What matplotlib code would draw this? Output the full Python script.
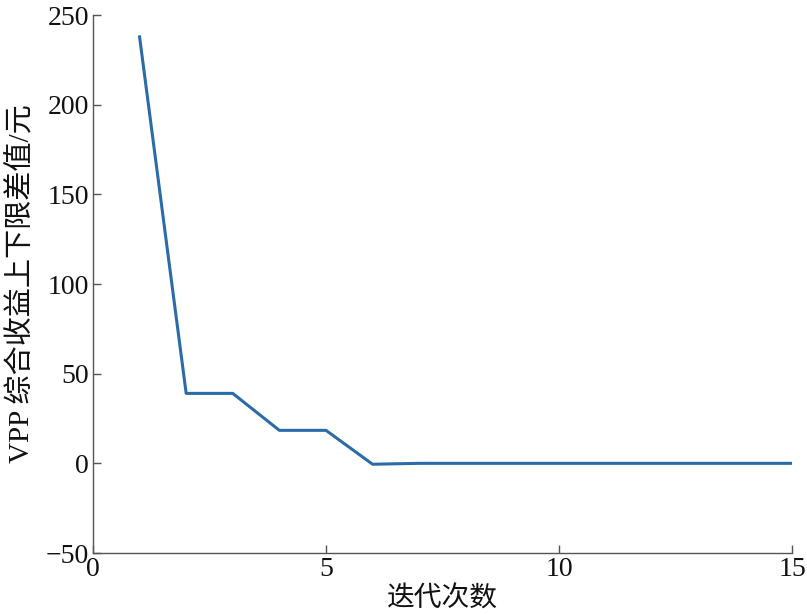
import matplotlib
matplotlib.use("Agg")
import matplotlib.pyplot as plt

iterations = [1, 2, 3, 4, 5, 6, 7, 8, 9, 10, 11, 12, 13, 14, 15]
gap_values = [237.8, 39.0, 39.0, 18.4, 18.4, -0.5, 0.0, 0.0, 0.0, 0.0, 0.0, 0.0, 0.0, 0.0, 0.0]
x_ticks = [0, 5, 10, 15]
y_ticks = [-50, 0, 50, 100, 150, 200, 250]

plt.rcParams['font.family'] = ['Liberation Serif', 'Noto Sans CJK SC']
plt.rcParams['axes.unicode_minus'] = True

fig = plt.figure(figsize=(8.07, 6.15), dpi=100)
ax = fig.add_axes([0.1152, 0.1008, 0.8662, 0.8748])
ax.plot(iterations, gap_values, color='#2b6ca8', linewidth=2.2)
ax.set_xlim(0, 15)
ax.set_ylim(-50, 250)
ax.set_xticks(x_ticks)
ax.set_yticks(y_ticks)
for s in ['top', 'right']:
    ax.spines[s].set_visible(False)
for s in ['left', 'bottom']:
    ax.spines[s].set_color('#555555')
    ax.spines[s].set_linewidth(1.0)
ax.tick_params(direction='in', length=6, width=1, colors='#555555', labelcolor='#111111', labelsize=20, pad=3)
ax.set_xlabel('迭代次数', fontsize=20, labelpad=3, color='#111111')
ax.set_ylabel('VPP 综合收益上下限差值/元', fontsize=21, labelpad=7, color='#111111')
fig.savefig('out.png', dpi=100)
